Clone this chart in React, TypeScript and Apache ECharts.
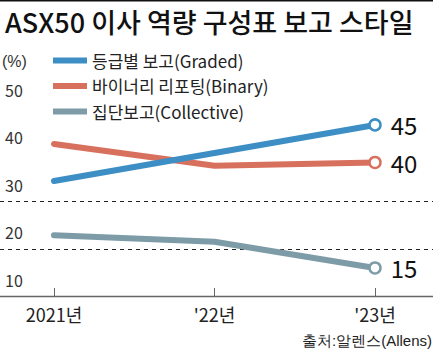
import React, { useEffect, useRef } from "react";
import * as echarts from "echarts";

const title = "ASX50 이사 역량 구성표 보고 스타일";
const categories = ["2021년", "'22년", "'23년"];
const seriesNames = ["등급별 보고(Graded)", "바이너리 리포팅(Binary)", "집단보고(Collective)"];
const graded = [30.8, 36.7, 42.6];
const binary = [38.6, 34.0, 34.7];
const collective = [19.4, 18.0, 12.5];
const endValues = ["45", "40", "15"];
const yTicks = [10, 20, 30, 40, 50];
const unitLabel = "(%)";
const source = "출처:알렌스(Allens)";

const colors = ["#3d8ec4", "#d8705e", "#7d9ca8"];
const FONT = "'Noto Sans CJK KR', 'Noto Sans', sans-serif";

export default function App() {
  const ref = useRef<HTMLDivElement>(null);
  useEffect(() => {
    if (!ref.current) return;
    const chart = echarts.init(ref.current, undefined, { renderer: "svg" });
    const data = [graded, binary, collective];
    const option: any = {
      animation: false,
      textStyle: { fontFamily: FONT },
      title: {
        text: title,
        left: 0,
        top: 3,
        textStyle: { fontSize: 27, fontWeight: 500, color: "#111", fontFamily: FONT },
      },
      legend: {
        orient: "vertical",
        left: 48,
        top: 47,
        itemWidth: 34,
        itemHeight: 6,
        itemGap: 8.5,
        icon: "rect",
        data: seriesNames.map((name, i) => ({
          name,
          itemStyle: { color: colors[i], borderWidth: 0 },
        })),
        textStyle: { fontSize: 17, color: "#222", fontFamily: FONT },
      },
      grid: { left: 54, top: 66, width: 321, height: 230 },
      xAxis: {
        type: "category",
        data: categories,
        boundaryGap: false,
        axisLine: { show: false },
        axisTick: { show: true, inside: true, length: 8, lineStyle: { color: "#666", width: 1 } },
        axisLabel: { fontSize: 18, color: "#222", margin: 9, fontFamily: FONT },
      },
      yAxis: {
        type: "value",
        min: 6.6,
        max: 55,
        minInterval: 10,
        maxInterval: 10,
        axisLine: { show: false },
        axisTick: { show: false },
        splitLine: { show: false },
        axisLabel: {
          showMinLabel: false,
          showMaxLabel: false,
          align: "left",
          margin: 49,
          fontSize: 16,
          color: "#333",
          fontFamily: FONT,
          formatter: (v: number) => (yTicks.indexOf(Math.round(v * 1000) / 1000) >= 0 ? String(v) : ""),
        },
      },
      series: seriesNames.map((name, i) => ({
        name,
        type: "line",
        data: data[i].map((v, j) =>
          j === data[i].length - 1 ? { value: v } : { value: v, symbol: "none" }
        ),
        color: colors[i],
        lineStyle: { width: 6, color: colors[i], cap: "round", join: "round" },
        symbol: "circle",
        symbolSize: 11,
        showSymbol: true,
        showAllSymbol: true,
        itemStyle: { color: "#fff", borderColor: colors[i], borderWidth: 2.5 },
        label: {
          show: true,
          position: "right",
          distance: 9,
          fontSize: 24,
          color: "#111",
          fontFamily: FONT,
          formatter: (p: any) => (p.dataIndex === data[i].length - 1 ? endValues[i] : ""),
        },
        emphasis: { disabled: true },
        z: 3 - i,
      })),
      graphic: [
        { type: "line", shape: { x1: 0, y1: 0.75, x2: 433, y2: 0.75 }, style: { stroke: "#111", lineWidth: 1.5 } },
        { type: "line", shape: { x1: 0, y1: 201.5, x2: 433, y2: 201.5 }, style: { stroke: "#222", lineWidth: 1, lineDash: [4, 4] } },
        { type: "line", shape: { x1: 0, y1: 249.5, x2: 433, y2: 249.5 }, style: { stroke: "#222", lineWidth: 1, lineDash: [4, 4] } },
        { type: "line", shape: { x1: 0, y1: 296.5, x2: 433, y2: 296.5 }, style: { stroke: "#666", lineWidth: 1.5 } },
        { type: "text", left: 2, top: 53, style: { text: unitLabel, fontSize: 16, fill: "#333", font: `16px ${FONT}` } },
        { type: "text", right: 1, top: 333, style: { text: source, fontSize: 15, fill: "#222", font: `15px ${FONT}` } },
      ],
    };
    chart.setOption(option);
    return () => chart.dispose();
  }, []);
  return (
    <div
      ref={ref}
      style={{ position: "fixed", left: 0, top: 0, width: 433, height: 355, background: "#fff" }}
    />
  );
}
